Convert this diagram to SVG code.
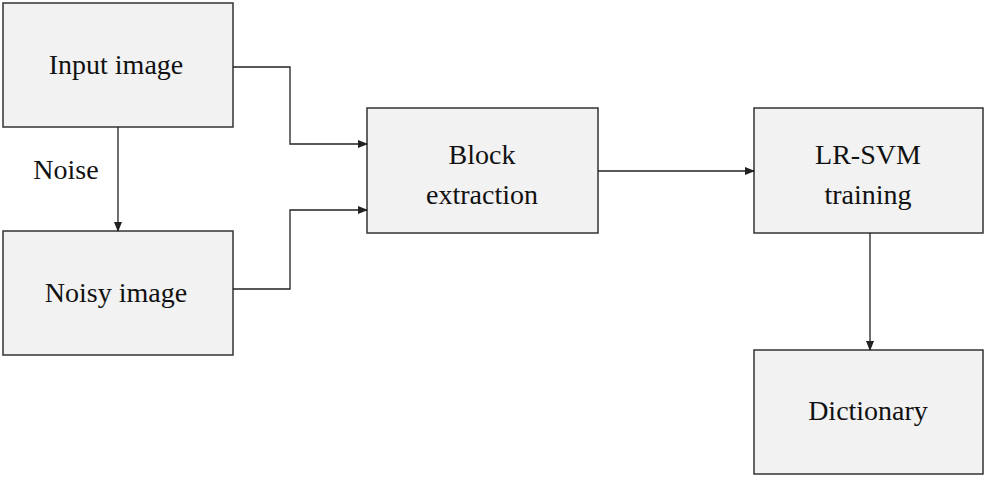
<svg xmlns="http://www.w3.org/2000/svg" width="987" height="479" viewBox="0 0 987 479">
<style>
rect{fill:#f2f2f2;stroke:#333;stroke-width:1.5}
text{font-family:"Liberation Serif",serif;font-size:28px;fill:#111;text-anchor:middle}
.c path{fill:none;stroke:#222;stroke-width:1.3}
</style>
<defs><marker id="a" markerWidth="10" markerHeight="8" refX="9" refY="4" orient="auto" markerUnits="userSpaceOnUse"><path d="M0,0L10,4L0,8z" fill="#222"/></marker></defs>
<rect width="987" height="479" style="fill:#fff;stroke:none"/>
<g id="input"><rect x="3" y="3" width="230" height="124"/><text x="116" y="74">Input image</text></g>
<g id="noisy"><rect x="3" y="231" width="230" height="124"/><text x="116" y="302">Noisy image</text></g>
<g id="block"><rect x="367" y="108" width="231" height="125"/><text x="482" y="164">Block</text><text x="482" y="204">extraction</text></g>
<g id="lrsvm"><rect x="754" y="108" width="229" height="125"/><text x="868" y="164">LR-SVM</text><text x="868" y="204">training</text></g>
<g id="dict"><rect x="754" y="350" width="229" height="124"/><text x="868" y="420">Dictionary</text></g>
<g class="c">
<path d="M233,67H290V144H367" marker-end="url(#a)"/>
<path d="M233,289H290V210H367" marker-end="url(#a)"/>
<path d="M118,127V231" marker-end="url(#a)"/>
<path d="M598,171H754" marker-end="url(#a)"/>
<path d="M870,233V350" marker-end="url(#a)"/>
</g>
<text x="66" y="179">Noise</text>
</svg>
